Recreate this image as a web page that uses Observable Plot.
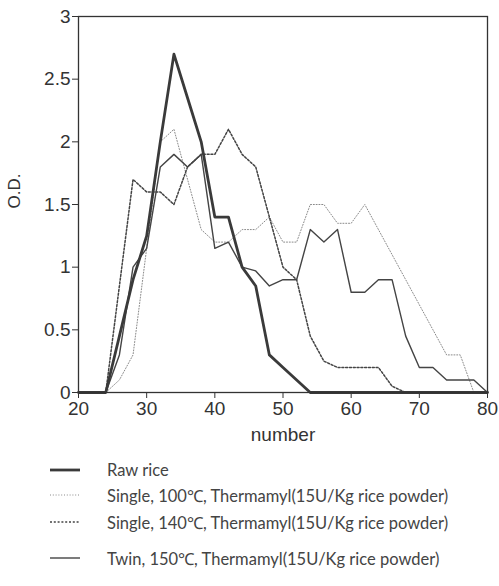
<!DOCTYPE html>
<html>
<head>
<meta charset="utf-8">
<script src="https://cdn.jsdelivr.net/npm/d3@7"></script>
<script src="https://cdn.jsdelivr.net/npm/@observablehq/plot@0.6"></script>
<style>
  html, body { margin: 0; padding: 0; background: #fff; }
  #wrap { position: relative; width: 499px; height: 586px; overflow: hidden; }
  #chart svg, #chart svg text { font-family: "Liberation Sans", Arial, Helvetica, sans-serif !important; }
  #legend { position: absolute; left: 0; top: 0; width: 499px; height: 586px; pointer-events: none; }
  .row { position: absolute; left: 50px; height: 20px; display: flex; align-items: center; }
  .row svg { width: 30px; height: 8px; margin-right: 27px; }
  .row span { font-family: Lato, "Open Sans", sans-serif; font-size: 16.5px; color: #444; white-space: nowrap; }
</style>
</head>
<body>
<div id="wrap"><div id="chart"></div><div id="legend"></div></div>
<script>
// ---- data ----
const numbers = [20,22,24,26,28,30,32,34,36,38,40,42,44,46,48,50,52,54,56,58,60,62,64,66,68,70,72,74,76,78,80];
const rawRice   = [0,0,0,0.45,0.9,1.25,2.0,2.7,2.35,2.0,1.4,1.4,1.0,0.85,0.3,0.2,0.1,0,0,0,0,0,0,0,0,0,0,0,0,0,0];
const single100 = [0,0,0,0.1,0.3,1.15,2.0,2.1,1.7,1.3,1.2,1.2,1.3,1.3,1.4,1.2,1.2,1.5,1.5,1.35,1.35,1.5,1.3,1.1,0.9,0.7,0.5,0.3,0.3,0,0];
const single140 = [0,0,0,0.85,1.7,1.6,1.6,1.5,1.8,1.9,1.9,2.1,1.9,1.8,1.4,1.0,0.9,0.45,0.25,0.2,0.2,0.2,0.2,0.05,0,0,0,0,0,0,0];
const twin150   = [0,0,0,0.3,1.0,1.15,1.8,1.9,1.8,1.9,1.15,1.2,1.0,0.97,0.85,0.9,0.9,1.3,1.2,1.3,0.8,0.8,0.9,0.9,0.45,0.2,0.2,0.1,0.1,0.1,0];
const seriesNames = [
  "Raw rice",
  "Single, 100\u2103, Thermamyl(15U/Kg rice powder)",
  "Single, 140\u2103, Thermamyl(15U/Kg rice powder)",
  "Twin, 150\u2103, Thermamyl(15U/Kg rice powder)"
];
const xTicks = [20,30,40,50,60,70,80];
const yTicks = [0,0.5,1,1.5,2,2.5,3];
const xLabel = "number";
const yLabel = "O.D.";

// ---- styles per series ----
const styles = [
  {stroke: "#3a3a3a", strokeWidth: 2.8, dash: null},
  {stroke: "#8a8a8a", strokeWidth: 1, dash: "1,1.8"},
  {stroke: "#444", strokeWidth: 1.5, dash: "2,1.8"},
  {stroke: "#444", strokeWidth: 1.4, dash: null}
];
const allSeries = [rawRice, single100, single140, twin150];

const toRows = (vals) => numbers.map((n, i) => ({x: n, y: vals[i]}));

const lineMarks = allSeries.map((vals, k) => Plot.line(toRows(vals), {
  x: "x", y: "y",
  stroke: styles[k].stroke,
  strokeWidth: styles[k].strokeWidth,
  strokeDasharray: styles[k].dash,
  strokeLinejoin: "round"
}));
const ordered = [lineMarks[1], lineMarks[2], lineMarks[3], lineMarks[0]];

const chart = Plot.plot({
  width: 499,
  height: 450,
  marginLeft: 78,
  marginRight: 12,
  marginTop: 16,
  marginBottom: 58,
  style: {fontFamily: "Liberation Sans, Arial, sans-serif", fontSize: "19px", color: "#333", background: "#fff"},
  x: {domain: [20, 80], ticks: xTicks, label: null},
  y: {domain: [0, 3], ticks: yTicks, label: null},
  marks: [
    Plot.axisX({ticks: xTicks, tickSize: 6, tickPadding: 3, label: null, tickFormat: d => String(d)}),
    Plot.axisY({ticks: yTicks, tickSize: 6, tickPadding: 2, label: null, tickFormat: d => String(d)}),
    ...ordered,
    Plot.frame({stroke: "#333", strokeWidth: 1.3}),
    Plot.text([xLabel], {frameAnchor: "bottom", dy: 48, text: d => d, fontSize: 19, fill: "#333"}),
    Plot.text([yLabel], {frameAnchor: "left", dx: -64, dy: 4, rotate: -90, text: d => d, fontSize: 17, fill: "#333"})
  ]
});
document.getElementById("chart").appendChild(chart);

// ---- legend (below the plot) ----
const rowCenters = [470, 495, 522, 558];
const legend = document.getElementById("legend");
seriesNames.forEach((name, k) => {
  const row = document.createElement("div");
  row.className = "row";
  row.style.top = (rowCenters[k] - 10) + "px";
  const s = styles[k];
  row.innerHTML = `<svg viewBox="0 0 30 8"><line x1="0" y1="4" x2="30" y2="4" stroke="${s.stroke}" stroke-width="${s.strokeWidth}" ${s.dash ? `stroke-dasharray="${s.dash}"` : ""}/></svg><span>${name}</span>`;
  legend.appendChild(row);
});
</script>
</body>
</html>
